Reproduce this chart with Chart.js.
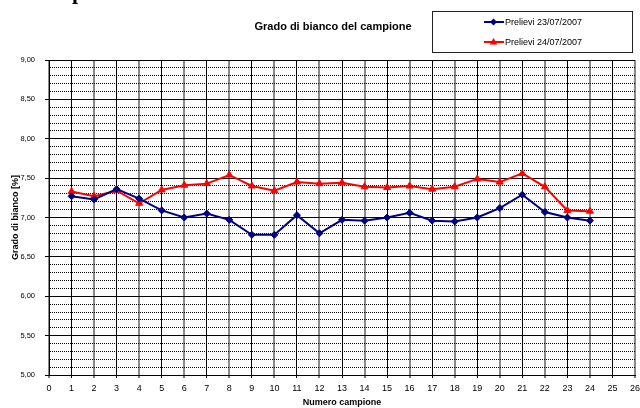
<!DOCTYPE html>
<html>
<head>
<meta charset="utf-8">
<script src="https://cdn.jsdelivr.net/npm/chart.js@4/dist/chart.umd.min.js"></script>
<style>
  html, body { margin: 0; padding: 0; background: #fff; overflow: hidden; }
  #wrap { position: relative; width: 640px; height: 408px; }
  #c { position: absolute; left: 0; top: 0; }
  #title { position: absolute; left: 233px; width: 200px; top: 20px; text-align: center;
    font: bold 11px "Liberation Sans", Arial, sans-serif; color: #000; white-space: nowrap; }
  #legend { position: absolute; left: 432px; top: 11px; width: 199px; height: 40px;
    border: 1px solid #222; background: #fff; font: 9px "Liberation Sans", Arial, sans-serif; color: #000; }
  .li { position: absolute; left: 50px; height: 12px; white-space: nowrap; }
  .li svg { position: absolute; left: 0; top: 0; }
  .li span { position: absolute; left: 22px; top: 0; line-height: 12px; }
  #pg { position: absolute; left: 72px; top: -19px; font: bold 22px "Liberation Serif", "Times New Roman", serif; line-height: 1; color: #000; }
</style>
</head>
<body>
<div id="wrap">
  <canvas id="c" width="640" height="408"></canvas>
  <div id="pg">p</div>
  <div id="title">Grado di bianco del campione</div>
  <div id="legend">
    <div class="li" style="top:4px">
      <svg width="22" height="12"><line x1="1" y1="6" x2="21" y2="6" stroke="#000080" stroke-width="2"/><polygon points="10.5,2.5 14,6 10.5,9.5 7,6" fill="#000080"/></svg>
      <span>Prelievi 23/07/2007</span>
    </div>
    <div class="li" style="top:24px">
      <svg width="22" height="12"><line x1="1" y1="6" x2="21" y2="6" stroke="#ff0000" stroke-width="2"/><polygon points="10.5,2 14.3,8.5 6.7,8.5" fill="#ff0000"/></svg>
      <span>Prelievi 24/07/2007</span>
    </div>
  </div>
</div>
<script>
// ---- data ----
const categories = [1, 2, 3, 4, 5, 6, 7, 8, 9, 10, 11, 12, 13, 14, 15, 16, 17, 18, 19, 20, 21, 22, 23, 24];
const prelievi23 = [7.27, 7.23, 7.36, 7.24, 7.09, 7.00, 7.05, 6.97, 6.78, 6.78, 7.03, 6.80,
                    6.97, 6.96, 7.00, 7.06, 6.96, 6.95, 7.00, 7.12, 7.29, 7.07, 7.00, 6.96];
const prelievi24 = [7.33, 7.27, 7.34, 7.18, 7.35, 7.41, 7.43, 7.54, 7.40, 7.34, 7.45, 7.43,
                    7.44, 7.39, 7.38, 7.40, 7.36, 7.39, 7.49, 7.45, 7.56, 7.39, 7.09, 7.08];
const seriesNames = ['Prelievi 23/07/2007', 'Prelievi 24/07/2007'];
const xMin = 0, xMax = 26;
const yMin = 5, yMax = 9, yMajorStep = 0.5, yMinorStep = 0.1;

const toPts = arr => categories.map((c, i) => ({ x: c, y: arr[i] }));
const isMajor = v => Math.abs(v / yMajorStep - Math.round(v / yMajorStep)) < 1e-6;

new Chart(document.getElementById('c'), {
  type: 'line',
  data: {
    datasets: [
      { label: seriesNames[0], data: toPts(prelievi23), borderColor: '#000080', backgroundColor: '#000080',
        borderWidth: 2, pointStyle: 'rectRot', pointRadius: 3.5, pointBorderWidth: 1, tension: 0 },
      { label: seriesNames[1], data: toPts(prelievi24), borderColor: '#ff0000', backgroundColor: '#ff0000',
        borderWidth: 2, pointStyle: 'triangle', pointRadius: 4, pointBorderWidth: 1, tension: 0 }
    ]
  },
  options: {
    responsive: false,
    animation: false,
    events: [],
    layout: { padding: { top: 60, right: 4, left: 0, bottom: 0 } },
    plugins: { legend: { display: false }, title: { display: false }, tooltip: { enabled: false } },
    scales: {
      x: {
        type: 'linear', min: xMin, max: xMax,
        ticks: { stepSize: 1, autoSkip: false, maxRotation: 0, color: '#000', padding: 5,
                 font: { family: '"Liberation Sans", Arial, sans-serif', size: 9 } },
        grid: {
          color: ctx => (ctx.tick && ctx.tick.value % 2 === 1) ? '#000' : '#8a8a8a',
          lineWidth: ctx => (ctx.tick && ctx.tick.value % 2 === 1) ? 1 : 2,
          tickColor: '#000', tickWidth: 1, tickLength: 3
        },
        border: { color: '#000', width: 1 },
        title: { display: true, text: 'Numero campione', color: '#000', padding: { top: 0, bottom: 0 },
                 font: { family: '"Liberation Sans", Arial, sans-serif', size: 9, weight: 'bold' } },
        afterFit: s => { s.height = 33; s.paddingLeft = 0; s.paddingRight = 0; }
      },
      y: {
        type: 'linear', min: yMin, max: yMax,
        ticks: { stepSize: yMinorStep, autoSkip: false, color: '#000', padding: 10,
                 font: { family: '"Liberation Sans", Arial, sans-serif', size: 7.5 },
                 callback: v => isMajor(v) ? v.toFixed(2).replace('.', ',') : '' },
        grid: {
          color: '#000',
          lineWidth: 1,
          tickColor: ctx => (ctx.tick && isMajor(ctx.tick.value)) ? '#000' : 'rgba(0,0,0,0)',
          tickLength: 4
        },
        border: { color: '#000', width: 1,
                  dash: ctx => (ctx.tick && isMajor(ctx.tick.value)) ? [] : [1, 1] },
        title: { display: true, text: 'Grado di bianco [%]', color: '#000', padding: { top: 10, bottom: 0 },
                 font: { family: '"Liberation Sans", Arial, sans-serif', size: 9, weight: 'bold' } },
        afterFit: s => { s.width = 49; s.paddingTop = 0; s.paddingBottom = 0; }
      }
    }
  }
});
</script>
</body>
</html>
